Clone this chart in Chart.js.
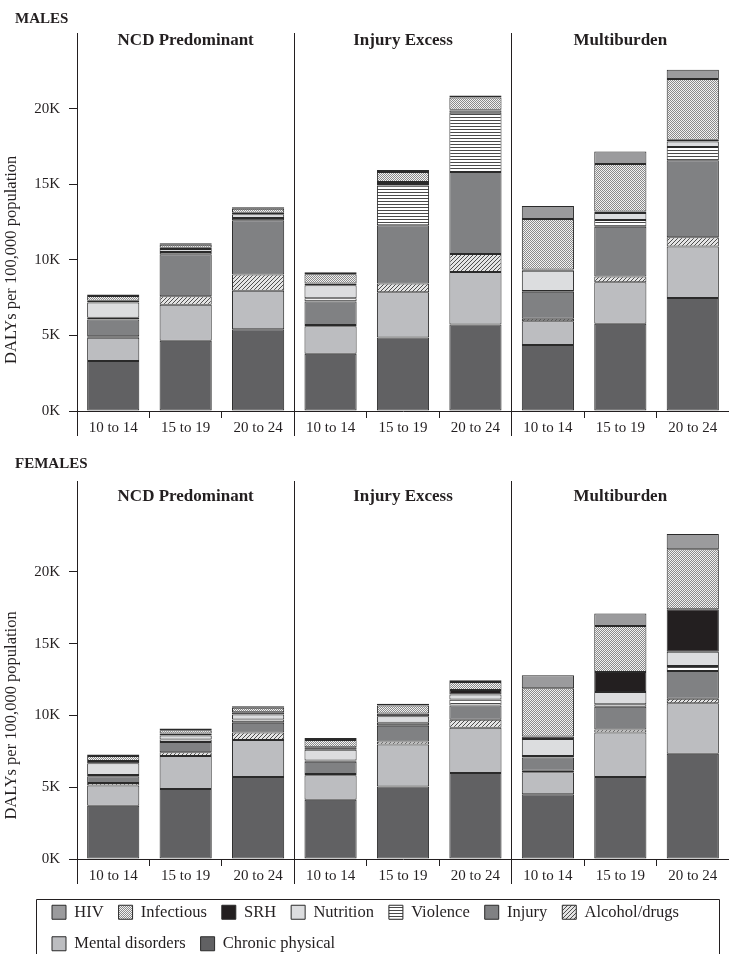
<!DOCTYPE html>
<html><head><meta charset="utf-8">
<script src="https://cdn.jsdelivr.net/npm/chart.js@4.4.1/dist/chart.umd.min.js"></script>
<style>
html,body{margin:0;padding:0;background:#fff;}
#wrap{position:relative;width:729px;height:954px;overflow:hidden;background:#fff;}
canvas{position:absolute;left:0;}
#cm{top:0;}
#cf{top:445px;}
</style></head><body>
<div id="wrap"><canvas id="cm" width="729" height="440"></canvas><canvas id="cf" width="729" height="517"></canvas></div>
<script>
// ---------- DATA ----------
const groups = ["NCD Predominant", "Injury Excess", "Multiburden"];
const ageGroups = ["10 to 14", "15 to 19", "20 to 24"];
const categories = groups.flatMap(() => ageGroups);
const seriesNames = ["Chronic physical", "Mental disorders", "Alcohol/drugs", "Injury", "Violence", "Nutrition", "SRH", "Infectious", "HIV"];
const yTickValues = [0, 5000, 10000, 15000, 20000];
const yTitle = "DALYs per 100,000 population";

// MALES: NCD 10-14, 15-19, 20-24 | Injury Excess ... | Multiburden ...
const maleChronic    = [3300, 4640, 5410, 3780, 4860, 5720, 4360, 5770, 7480];
const maleMental     = [1550, 2380, 2550, 1830, 2990, 3480, 1580, 2740, 3400];
const maleAlcohol    = [100, 570, 1060, 70, 580, 1180, 160, 390, 610];
const maleInjury     = [1100, 2770, 3600, 1560, 3850, 5420, 1780, 3290, 5090];
const maleViolence   = [120, 150, 150, 220, 2640, 3920, 50, 440, 880];
const maleNutrition  = [1000, 200, 250, 860, 100, 150, 1350, 460, 370];
const maleSRH        = [120, 80, 100, 110, 130, 50, 80, 110, 110];
const maleInfectious = [320, 200, 250, 610, 660, 810, 3340, 3140, 4010];
const maleHIV        = [100, 100, 100, 130, 130, 130, 850, 830, 620];

// FEMALES
const femChronic    = [3710, 4870, 5710, 4130, 5060, 5990, 4520, 5710, 7340];
const femMental     = [1420, 2310, 2590, 1700, 2910, 3150, 1520, 3100, 3520];
const femAlcohol    = [160, 250, 510, 90, 210, 560, 110, 210, 310];
const femInjury     = [470, 730, 680, 860, 1100, 1000, 930, 1590, 1930];
const femViolence   = [90, 160, 230, 90, 210, 420, 100, 180, 350];
const femNutrition  = [820, 280, 350, 750, 460, 350, 1190, 840, 1000];
const femSRH        = [160, 140, 160, 160, 190, 300, 160, 1400, 2960];
const femInfectious = [350, 230, 310, 520, 560, 560, 3360, 3210, 4180];
const femHIV        = [110, 120, 110, 140, 120, 120, 910, 870, 1050];

const maleSeries = [maleChronic, maleMental, maleAlcohol, maleInjury, maleViolence, maleNutrition, maleSRH, maleInfectious, maleHIV];
const femSeries  = [femChronic, femMental, femAlcohol, femInjury, femViolence, femNutrition, femSRH, femInfectious, femHIV];

// ---------- STYLES ----------
const INK = '#231f20';
Chart.defaults.font.family = '"Liberation Serif", "DejaVu Serif", serif';
Chart.defaults.color = INK;

function makePattern(type) {
  const c = document.createElement('canvas');
  const g = c.getContext('2d');
  if (type === 'checker') {
    c.width = 2; c.height = 2;
    g.fillStyle = '#f2f2f2'; g.fillRect(0, 0, 2, 2);
    g.fillStyle = '#8a8a8a'; g.fillRect(0, 0, 1, 1); g.fillRect(1, 1, 1, 1);
  } else if (type === 'hlines') {
    c.width = 2; c.height = 3;
    g.fillStyle = '#ffffff'; g.fillRect(0, 0, 2, 3);
    g.fillStyle = '#4a4a4a'; g.fillRect(0, 0, 2, 1);
  } else if (type === 'diag') {
    c.width = 4; c.height = 4;
    g.fillStyle = '#e4e4e4'; g.fillRect(0, 0, 4, 4);
    g.fillStyle = '#4d4d4d';
    g.fillRect(3, 0, 1, 1); g.fillRect(2, 1, 1, 1); g.fillRect(1, 2, 1, 1); g.fillRect(0, 3, 1, 1);
  }
  return g.createPattern(c, 'repeat');
}
const fillStyles = ['#616163', '#bcbdc0', makePattern('diag'), '#808183', makePattern('hlines'), '#dcdddf', '#231f20', makePattern('checker'), '#9b9b9d'];

function alignPx(p) { return Math.round(p - 0.5) + 0.5; }

const panelPlugin = {
  id: 'panels',
  afterLayout(chart, args, opts) {
    if (opts.legendLeft != null && chart.legend) {
      chart.legend.left = opts.legendLeft;
      chart.legend.top += opts.legendShift;
      chart.legend.bottom += opts.legendShift;
    }
  },
  afterDraw(chart, args, opts) {
    const { ctx, chartArea, scales } = chart;
    const x = scales.x, y = scales.y;
    ctx.save();
    ctx.strokeStyle = INK;
    ctx.lineWidth = 1;
    ctx.beginPath();
    const lx = alignPx(chartArea.left);
    ctx.moveTo(lx, chartArea.bottom);
    ctx.lineTo(lx, chartArea.bottom + opts.ext);
    [3, 6].forEach(i => {
      const px = alignPx((x.getPixelForValue(i - 1) + x.getPixelForValue(i)) / 2);
      ctx.moveTo(px, chartArea.top);
      ctx.lineTo(px, chartArea.bottom + opts.ext);
    });
    ctx.stroke();
    ctx.fillStyle = INK;
    ctx.font = 'bold 17px "Liberation Serif", serif';
    ctx.textAlign = 'center';
    ctx.textBaseline = 'middle';
    groups.forEach((g, k) => ctx.fillText(g, x.getPixelForValue(3 * k + 1), chartArea.top + opts.titleY));
    ctx.save();
    ctx.font = '16.5px "Liberation Serif", serif';
    ctx.translate(12, y.getPixelForValue(10000));
    ctx.rotate(-Math.PI / 2);
    ctx.fillText(yTitle, 0, 0);
    ctx.restore();
    if (opts.legendBox && chart.legend) {
      const t = alignPx(chart.legend.top + opts.legendBox.top);
      const l = alignPx(opts.legendBox.left), r = alignPx(opts.legendBox.right);
      ctx.beginPath();
      ctx.moveTo(l, chart.height + 2);
      ctx.lineTo(l, t);
      ctx.lineTo(r, t);
      ctx.lineTo(r, chart.height + 2);
      ctx.stroke();
    }
    ctx.restore();
  }
};

function makeChart(id, title, series, opt) {
  return new Chart(document.getElementById(id), {
    type: 'bar',
    data: {
      labels: categories,
      datasets: seriesNames.map((n, i) => ({
        label: n,
        data: series[i],
        backgroundColor: fillStyles[i],
        borderColor: '#2a2a2a',
        borderWidth: 1,
        borderSkipped: false,
        barPercentage: 0.72,
        categoryPercentage: 1
      }))
    },
    options: {
      responsive: false,
      animation: false,
      devicePixelRatio: 1,
      layout: { padding: { left: 15, right: 0, top: 0, bottom: opt.padBottom } },
      plugins: {
        title: { display: true, text: title, align: 'start', color: INK,
                 font: { size: 15, weight: 'bold' }, padding: { top: 10, bottom: opt.titleBottom } },
        legend: opt.legend ? {
          display: true, position: 'bottom', align: 'start', reverse: true,
          labels: { boxWidth: 14, boxHeight: 14, padding: 15, color: INK, font: { size: 16.5 } }
        } : { display: false },
        tooltip: { enabled: false },
        panels: opt.panels
      },
      scales: {
        x: {
          stacked: true,
          offset: true,
          border: { display: true, color: INK, width: 1 },
          grid: {
            display: true, offset: true, drawOnChartArea: false, drawTicks: true, tickLength: 7,
            color: c => (c.type === 'tick' && c.index % 3 !== 0 ? INK : 'rgba(0,0,0,0)')
          },
          ticks: { autoSkip: false, maxRotation: 0, padding: 1, color: INK, font: { size: 15 } }
        },
        y: {
          stacked: true,
          min: 0, max: opt.max,
          afterFit: s => { s.width = 62; },
          afterBuildTicks: s => { s.ticks = yTickValues.map(v => ({ value: v })); },
          border: { display: true, color: INK, width: 1 },
          grid: { display: true, drawOnChartArea: false, drawTicks: true, tickLength: 8, color: INK },
          ticks: { padding: 9, color: INK, font: { size: 15 }, callback: v => (v / 1000) + 'K' }
        }
      }
    },
    plugins: [panelPlugin]
  });
}

makeChart('cm', 'MALES', maleSeries, {
  max: 25000, padBottom: 2, titleBottom: 5, legend: false,
  panels: { ext: 25, titleY: 8 }
});
makeChart('cf', 'FEMALES', femSeries, {
  max: 26340, padBottom: 3, titleBottom: 8, legend: true,
  panels: { ext: 25, titleY: 16, legendLeft: 37, legendShift: 3, legendBox: { top: 10, left: 36, right: 719 } }
});
</script>
</body></html>
